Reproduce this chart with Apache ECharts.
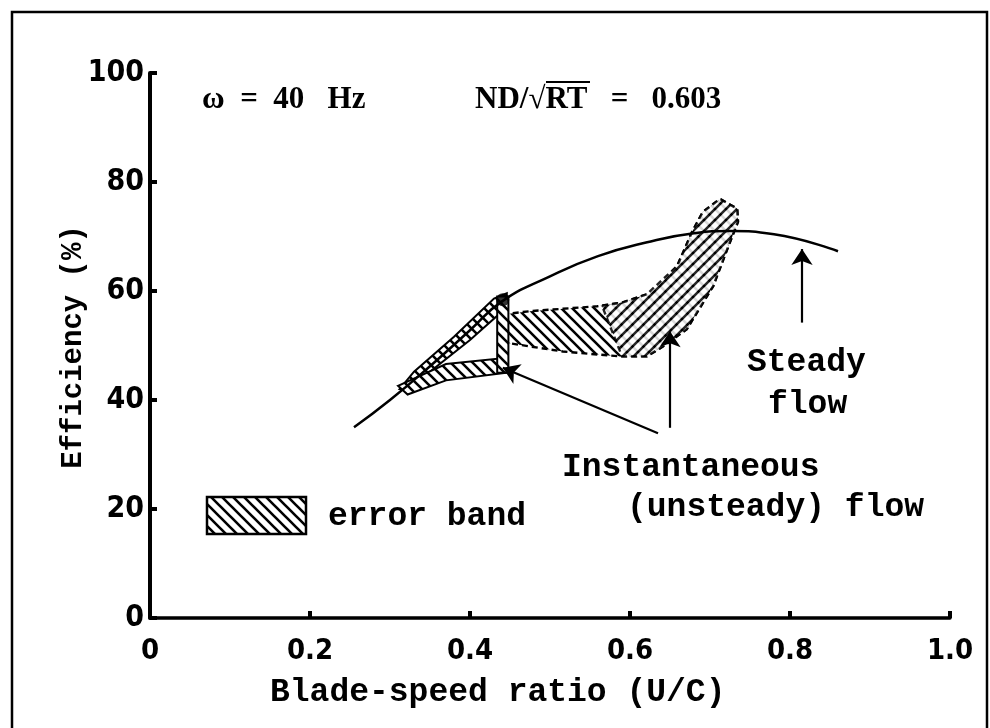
<!DOCTYPE html>
<html>
<head>
<meta charset="utf-8">
<title>Efficiency vs blade-speed ratio</title>
<script src="https://cdn.jsdelivr.net/npm/echarts@6/dist/echarts.min.js"></script>
<style>
  html, body { margin: 0; padding: 0; background: #fff; }
  #chart { width: 990px; height: 728px; }
</style>
</head>
<body>
<div id="chart"></div>
<script>
// steady flow curve
const steadyX = [0.255, 0.30, 0.35, 0.40, 0.44, 0.50, 0.56, 0.62, 0.68, 0.725, 0.78, 0.86];
const steadyY = [35, 40.0, 46.2, 52.8, 58.1, 62.7, 66.4, 68.9, 70.6, 71.0, 70.4, 67.3];

// instantaneous (unsteady) flow error band outlines, [U/C, efficiency]
const bandMain = [
  [0.441, 55.7], [0.475, 56.3], [0.559, 57.2], [0.591, 57.9], [0.621, 59.4], [0.629, 59.8],
  [0.659, 64.6], [0.6775, 70.8], [0.691, 74.5], [0.7125, 76.9], [0.734, 75.1], [0.735, 72.7],
  [0.725, 69.0], [0.704, 60.9], [0.671, 53.0], [0.641, 49.8], [0.621, 48.0], [0.5875, 48.0],
  [0.516, 48.9], [0.441, 50.6]
];
const bandCross = [
  [0.565, 57.3], [0.591, 57.9], [0.621, 59.4], [0.659, 64.6], [0.6775, 70.8], [0.691, 74.5],
  [0.7125, 76.9], [0.734, 75.1], [0.735, 72.7], [0.725, 69.0], [0.704, 60.9], [0.671, 53.0],
  [0.641, 49.8], [0.621, 48.0], [0.59, 48.0]
];
const bandUpperLeft = [
  [0.312, 42.0], [0.33, 45.2], [0.38, 51.6], [0.43, 58.6], [0.446, 59.6],
  [0.446, 57.0], [0.40, 51.0], [0.35, 45.2], [0.326, 41.6]
];
const bandLowerLeft = [
  [0.31, 42.6], [0.37, 46.6], [0.437, 47.6], [0.446, 45.0], [0.37, 43.6], [0.322, 41.0]
];
const bandVertical = [
  [0.434, 45.0], [0.434, 59.0], [0.448, 59.0], [0.448, 45.0]
];
const junction = [[0.441, 58.4]];

// pointer arrows [from, to]
const arrowSteady = [[0.815, 54.2], [0.815, 67.7]];
const arrowInstUp = [[0.65, 34.9], [0.65, 52.6]];
const arrowInstDiag = [[0.635, 33.9], [0.441, 45.9]];

const xTicks = ['0', '0.2', '0.4', '0.6', '0.8', '1.0'];

const MONO = "'Liberation Mono', 'DejaVu Sans Mono', monospace";
const TICKF = "'DejaVu Sans Condensed', 'Liberation Sans Narrow', sans-serif";
const SERIF = "'Liberation Serif', 'DejaVu Serif', serif";

// hatch patterns
function makeHatch(dir) {
  const s = 11;
  const c = document.createElement('canvas');
  c.width = s; c.height = s;
  const g = c.getContext('2d');
  g.fillStyle = '#fff';
  g.fillRect(0, 0, s, s);
  g.strokeStyle = '#000';
  g.lineWidth = 2.6;
  g.beginPath();
  if (dir === 'back') {
    g.moveTo(-2, -2); g.lineTo(s + 2, s + 2);
    g.moveTo(-2, s - 2); g.lineTo(2, s + 2);
    g.moveTo(s - 2, -2); g.lineTo(s + 2, 2);
  } else {
    g.moveTo(-2, s + 2); g.lineTo(s + 2, -2);
    g.moveTo(-2, 2); g.lineTo(2, -2);
    g.moveTo(s - 2, s + 2); g.lineTo(s + 2, s - 2);
  }
  g.stroke();
  return c;
}
const hatchBack = { image: makeHatch('back'), repeat: 'repeat' };
const hatchFwd = makeHatch('fwd');

function bandSeries(pts, fill, dash, z, opacity) {
  return {
    type: 'custom',
    coordinateSystem: 'cartesian2d',
    silent: true,
    z: z,
    data: pts,
    renderItem: function (params, api) {
      if (params.dataIndex !== 0) return null;
      return {
        type: 'polygon',
        shape: { points: pts.map(p => api.coord(p)) },
        style: {
          fill: fill,
          stroke: '#000',
          lineWidth: dash ? 2.4 : 2,
          lineDash: dash ? [6, 4] : null,
          opacity: opacity
        }
      };
    }
  };
}

function arrow(pts) {
  return {
    type: 'lines',
    coordinateSystem: 'cartesian2d',
    silent: true,
    z: 6,
    symbol: ['none', 'arrow'],
    symbolSize: [9, 16],
    lineStyle: { color: '#000', width: 2.2, opacity: 1 },
    data: [{ coords: pts }]
  };
}

const chart = echarts.init(document.getElementById('chart'), null, { renderer: 'canvas' });

chart.setOption({
  backgroundColor: '#fff',
  animation: false,
  grid: { left: 150, right: 40, top: 73, bottom: 110 },
  xAxis: {
    type: 'value',
    min: 0,
    max: 1,
    interval: 0.2,
    axisLine: { lineStyle: { color: '#000', width: 3.5 } },
    axisTick: { inside: true, length: 7, lineStyle: { color: '#000', width: 4 } },
    splitLine: { show: false },
    axisLabel: {
      margin: 19,
      color: '#000',
      fontFamily: TICKF,
      fontWeight: 'bold',
      fontSize: 29,
      formatter: v => xTicks[Math.round(v * 5)]
    }
  },
  yAxis: {
    type: 'value',
    min: 0,
    max: 100,
    interval: 20,
    axisLine: { lineStyle: { color: '#000', width: 4 } },
    axisTick: { inside: true, length: 7, lineStyle: { color: '#000', width: 4 } },
    splitLine: { show: false },
    axisLabel: {
      margin: 6,
      color: '#000',
      fontFamily: TICKF,
      fontWeight: 'bold',
      fontSize: 30
    }
  },
  series: [
    bandSeries(bandMain, hatchBack, true, 3, 1),
    bandSeries(bandCross, { image: hatchFwd, repeat: 'repeat' }, true, 4, 0.85),
    bandSeries(bandUpperLeft, hatchBack, false, 3, 1),
    bandSeries(bandLowerLeft, hatchBack, false, 3, 1),
    bandSeries(bandVertical, hatchBack, false, 3, 1),
    {
      name: 'Steady flow',
      type: 'line',
      smooth: true,
      showSymbol: false,
      z: 5,
      lineStyle: { color: '#000', width: 2.5 },
      data: steadyX.map((x, i) => [x, steadyY[i]])
    },
    {
      type: 'scatter',
      symbolSize: 13,
      z: 6,
      itemStyle: { color: '#000' },
      data: junction
    },
    arrow(arrowSteady),
    arrow(arrowInstUp),
    arrow(arrowInstDiag)
  ],
  graphic: [
    {
      type: 'rect',
      shape: { x: 12, y: 12, width: 975, height: 740 },
      style: { fill: null, stroke: '#000', lineWidth: 2.5 },
      silent: true
    },
    {
      type: 'text', x: 202, y: 100,
      style: { text: 'ω  =  40   Hz', font: 'bold 31px ' + SERIF, fill: '#000', textVerticalAlign: 'middle' }
    },
    {
      type: 'text', x: 475, y: 100,
      style: { text: 'ND/√RT   =   0.603', font: 'bold 31px ' + SERIF, fill: '#000', textVerticalAlign: 'middle' }
    },
    {
      type: 'line', shape: { x1: 546, y1: 82, x2: 590, y2: 82 },
      style: { stroke: '#000', lineWidth: 2 }
    },
    {
      type: 'text', x: 74, y: 347, rotation: Math.PI / 2,
      style: { text: 'Efficiency (%)', font: 'bold 29px ' + MONO, fill: '#000', textAlign: 'center', textVerticalAlign: 'middle' }
    },
    {
      type: 'text', x: 270, y: 693,
      style: { text: 'Blade-speed ratio (U/C)', font: 'bold 33px ' + MONO, fill: '#000', textVerticalAlign: 'middle' }
    },
    {
      type: 'rect',
      shape: { x: 207, y: 497, width: 99, height: 37 },
      style: { fill: hatchBack, stroke: '#000', lineWidth: 2.5 }
    },
    {
      type: 'text', x: 328, y: 517,
      style: { text: 'error band', font: 'bold 33px ' + MONO, fill: '#000', textVerticalAlign: 'middle' }
    },
    {
      type: 'text', x: 747, y: 363,
      style: { text: 'Steady', font: 'bold 33px ' + MONO, fill: '#000', textVerticalAlign: 'middle' }
    },
    {
      type: 'text', x: 768, y: 405,
      style: { text: 'flow', font: 'bold 33px ' + MONO, fill: '#000', textVerticalAlign: 'middle' }
    },
    {
      type: 'text', x: 562, y: 468,
      style: { text: 'Instantaneous', font: 'bold 33px ' + MONO, fill: '#000', textVerticalAlign: 'middle' }
    },
    {
      type: 'text', x: 627, y: 508,
      style: { text: '(unsteady) flow', font: 'bold 33px ' + MONO, fill: '#000', textVerticalAlign: 'middle' }
    }
  ]
});
</script>
</body>
</html>
